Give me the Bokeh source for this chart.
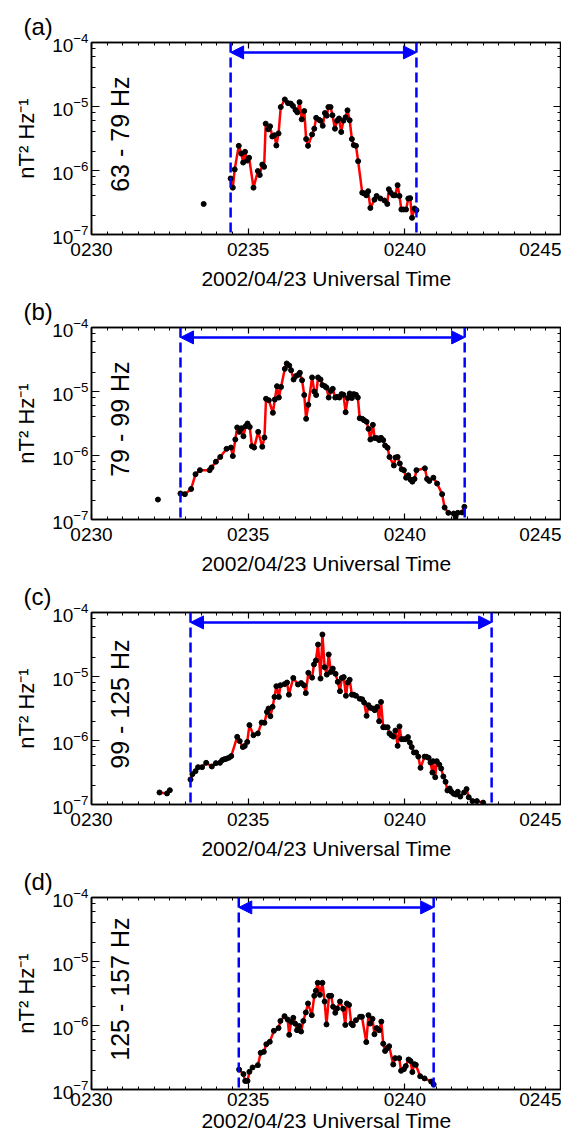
import math
from bokeh.plotting import figure
from bokeh.layouts import column
from bokeh.models import (Range1d, FixedTicker, LogTicker, LinearAxis, LogAxis, Span, Arrow,
                          NormalHead, Label, CustomJSTickFormatter)
from bokeh.embed import file_html
from bokeh.resources import INLINE

# ---------------- data (time in minutes after 02:30 UT, PSD in nT^2/Hz) ----------------
TICK_MINUTES = [0, 5, 10, 15]
TICK_LABELS = ["0230", "0235", "0240", "0245"]
PANEL_LETTERS = ["(a)", "(b)", "(c)", "(d)"]
BAND_LABELS = ["63 - 79 Hz", "79 - 99 Hz", "99 - 125 Hz", "125 - 157 Hz"]
INTERVAL_START = [4.44, 2.84, 3.16, 4.70]
INTERVAL_END = [10.37, 11.91, 12.77, 10.92]
X_TITLE = "2002/04/23 Universal Time"
Y_TITLE = "nT\u00b2 Hz\u207b\u00b9"

a_pre_t = [3.58]
a_pre_psd = [3.0e-7]
a_t = [4.44, 4.51, 4.57, 4.70, 4.78, 4.84, 4.90, 4.97, 5.03, 5.17,
       5.31, 5.37, 5.45, 5.51, 5.56, 5.64, 5.70, 5.77, 5.84, 5.90,
       5.97, 6.04, 6.17, 6.27, 6.36, 6.43, 6.51, 6.57, 6.64, 6.71,
       6.79, 6.85, 6.91, 7.04, 7.11, 7.17, 7.26, 7.31, 7.38, 7.45,
       7.51, 7.56, 7.63, 7.69, 7.77, 7.84, 7.90, 7.97, 8.04, 8.11,
       8.17, 8.24, 8.31, 8.37, 8.44, 8.51, 8.64, 8.70, 8.77, 8.83,
       8.90, 9.03, 9.10, 9.22, 9.35, 9.44, 9.49, 9.55, 9.63, 9.69,
       9.77, 9.83, 9.89, 9.96, 10.04, 10.11, 10.17, 10.23, 10.31, 10.37]
a_psd = [7.5e-7, 5.4e-7, 1.04e-6, 2.43e-6, 1.84e-6, 1.33e-6, 1.96e-6, 1.43e-6, 1.58e-6, 5.4e-7,
         9.8e-7, 8.5e-7, 1.24e-6, 1.14e-6, 5.4e-6, 4.4e-6, 4.9e-6, 3.4e-6, 3.56e-6, 2.46e-6,
         3.8e-6, 9.8e-6, 1.29e-5, 1.13e-5, 1.11e-5, 1.02e-5, 8.8e-6, 8.1e-6, 1.17e-5, 6.3e-6,
         8.5e-6, 3.1e-6, 2.43e-6, 3.65e-6, 4.5e-6, 6.65e-6, 6.2e-6, 6.0e-6, 5.0e-6, 7.9e-6,
         7.2e-6, 9.8e-6, 9.8e-6, 7.3e-6, 4.5e-6, 6.0e-6, 6.5e-6, 4.0e-6, 6.0e-6, 6.8e-6,
         8.7e-6, 6.1e-6, 3.1e-6, 2.5e-6, 2.43e-6, 1.4e-6, 4.5e-7, 4.4e-7, 4.1e-7, 4.75e-7,
         2.6e-7, 3.5e-7, 4.0e-7, 3.65e-7, 3.4e-7, 3.0e-7, 5.1e-7, 4.5e-7, 4.1e-7, 4.1e-7,
         5.9e-7, 4.0e-7, 2.46e-7, 2.46e-7, 2.46e-7, 3.65e-7, 3.7e-7, 1.82e-7, 2.55e-7, 2.4e-7]

b_pre_t = [2.12]
b_pre_psd = [2.05e-7]
b_t = [2.84, 2.98, 3.18, 3.32, 3.46, 3.77, 3.83, 3.97, 4.11, 4.31,
       4.45, 4.51, 4.59, 4.65, 4.72, 4.79, 4.85, 4.92, 4.98, 5.05,
       5.12, 5.19, 5.32, 5.45, 5.52, 5.57, 5.66, 5.79, 5.85, 5.92,
       5.98, 6.05, 6.17, 6.23, 6.31, 6.37, 6.45, 6.52, 6.60, 6.65,
       6.72, 6.79, 6.85, 6.92, 7.04, 7.11, 7.17, 7.23, 7.31, 7.37,
       7.45, 7.50, 7.57, 7.64, 7.70, 7.78, 7.84, 7.91, 7.98, 8.04,
       8.11, 8.18, 8.24, 8.31, 8.37, 8.44, 8.50, 8.56, 8.64, 8.70,
       8.78, 8.84, 8.90, 8.98, 9.04, 9.11, 9.18, 9.24, 9.31, 9.37,
       9.45, 9.51, 9.65, 9.70, 9.77, 9.84, 9.90, 9.97, 10.04, 10.11,
       10.18, 10.24, 10.31, 10.37, 10.64, 10.71, 10.78, 10.91, 11.03, 11.19,
       11.27, 11.39, 11.56, 11.62, 11.69, 11.83, 11.90]
b_psd = [2.55e-7, 2.49e-7, 3.0e-7, 5.1e-7, 5.9e-7, 5.9e-7, 6.5e-7, 8.0e-7, 9.5e-7, 1.27e-6,
         1.33e-6, 9.8e-7, 1.78e-6, 2.74e-6, 2.34e-6, 2.67e-6, 2.0e-6, 2.87e-6, 3.16e-6, 2.8e-6,
         1.4e-6, 1.33e-6, 2.34e-6, 1.37e-6, 1.91e-6, 7.7e-6, 7.3e-6, 4.65e-6, 7.5e-6, 1.21e-5,
         8.05e-6, 1.18e-5, 2.26e-5, 2.74e-5, 2.55e-5, 2.15e-5, 1.54e-5, 1.74e-5, 1.82e-5, 1.96e-5,
         1.5e-5, 8.8e-6, 3.74e-6, 6.2e-6, 1.66e-5, 1.0e-5, 8.8e-6, 1.66e-5, 1.54e-5, 1.26e-5,
         1.21e-5, 1.15e-5, 8.05e-6, 1.02e-5, 1.1e-5, 8.05e-6, 8.25e-6, 8.05e-6, 9.1e-6, 8.9e-6,
         4.75e-6, 7.9e-6, 9.3e-6, 7.9e-6, 9.1e-6, 8.9e-6, 8.05e-6, 3.83e-6, 3.74e-6, 3.56e-6,
         3.36e-6, 2.61e-6, 1.78e-6, 3.01e-6, 1.87e-6, 1.87e-6, 1.74e-6, 1.89e-6, 1.74e-6, 1.43e-6,
         1.32e-6, 9.5e-7, 7.0e-7, 9.3e-7, 9.5e-7, 7.5e-7, 6.1e-7, 5.9e-7, 4.5e-7, 4.9e-7,
         4.2e-7, 3.9e-7, 4.3e-7, 5.9e-7, 6.3e-7, 4.3e-7, 4.0e-7, 4.5e-7, 3.65e-7, 2.49e-7,
         1.54e-7, 1.27e-7, 1.24e-7, 1.1e-7, 1.27e-7, 1.29e-7, 1.58e-7]

c_pre_t = [2.17, 2.41, 2.50]
c_pre_psd = [1.54e-7, 1.49e-7, 1.67e-7]
c_t = [3.16, 3.22, 3.32, 3.40, 3.53, 3.66, 3.84, 3.97, 4.10, 4.17,
       4.24, 4.31, 4.39, 4.46, 4.65, 4.73, 4.83, 4.89, 4.97, 5.04,
       5.17, 5.31, 5.43, 5.52, 5.60, 5.65, 5.71, 5.78, 5.84, 5.90,
       5.98, 6.03, 6.16, 6.24, 6.30, 6.44, 6.59, 6.69, 6.78, 6.84,
       6.92, 7.04, 7.10, 7.16, 7.23, 7.31, 7.37, 7.44, 7.51, 7.57,
       7.64, 7.70, 7.79, 7.86, 7.93, 7.99, 8.05, 8.12, 8.18, 8.24,
       8.31, 8.37, 8.44, 8.56, 8.64, 8.70, 8.78, 8.84, 8.90, 8.98,
       9.04, 9.12, 9.18, 9.24, 9.31, 9.37, 9.45, 9.51, 9.57, 9.64,
       9.70, 9.77, 9.83, 9.89, 9.96, 10.02, 10.10, 10.16, 10.22, 10.29,
       10.36, 10.43, 10.50, 10.63, 10.69, 10.76, 10.82, 10.88, 10.90, 10.97,
       11.02, 11.10, 11.16, 11.23, 11.30, 11.36, 11.43, 11.49, 11.56, 11.63,
       11.69, 11.77, 11.89, 11.97, 12.04, 12.16, 12.30, 12.50]
c_psd = [2.46e-7, 2.98e-7, 3.32e-7, 3.83e-7, 3.83e-7, 4.48e-7, 3.93e-7, 4.43e-7, 4.48e-7, 4.93e-7,
         5.1e-7, 5.2e-7, 5.4e-7, 5.7e-7, 1.14e-6, 9.8e-7, 7.9e-7, 8.2e-7, 9.5e-7, 1.74e-6,
         1.21e-6, 1.29e-6, 1.91e-6, 1.89e-6, 2.8e-6, 3.16e-6, 2.4e-6, 3.36e-6, 4.8e-6, 7.06e-6,
         4.8e-6, 7.3e-6, 7.6e-6, 8.05e-6, 5.2e-6, 9.5e-6, 7.5e-6, 7.9e-6, 7.3e-6, 5.5e-6,
         1.14e-5, 9.6e-6, 1.54e-5, 1.78e-5, 3.16e-5, 9.3e-6, 4.53e-5, 1.4e-5, 1.07e-5, 2.21e-5,
         1.18e-5, 1.33e-5, 1.1e-5, 8.25e-6, 5.9e-6, 9.5e-6, 9.8e-6, 5.0e-6, 8.05e-6, 8.9e-6,
         5.2e-6, 5.2e-6, 5.0e-6, 4.5e-6, 4.4e-6, 3.93e-6, 2.43e-6, 3.56e-6, 3.24e-6, 3.16e-6,
         2.98e-6, 3.36e-6, 2.0e-6, 4.0e-6, 1.61e-6, 1.61e-6, 1.61e-6, 1.29e-6, 1.21e-6, 1.15e-6,
         1.43e-6, 8.25e-7, 1.66e-6, 1.05e-6, 1.05e-6, 1.05e-6, 1.13e-6, 9.3e-7, 7.9e-7, 6.5e-7,
         6.5e-7, 5.6e-7, 3.74e-7, 5.6e-7, 5.56e-7, 5.36e-7, 4.53e-7, 3.16e-7, 4.75e-7, 2.67e-7,
         4.75e-7, 4.2e-7, 3.65e-7, 2.74e-7, 2.26e-7, 1.66e-7, 1.78e-7, 1.58e-7, 1.47e-7, 1.43e-7,
         1.58e-7, 1.33e-7, 1.54e-7, 1.74e-7, 1.3e-7, 1.13e-7, 1.13e-7, 1.07e-7]

d_pre_t = []
d_pre_psd = []
d_t = [4.71, 4.85, 4.905, 4.98, 5.04, 5.14, 5.31, 5.40, 5.50, 5.58,
       5.69, 5.82, 5.97, 6.03, 6.16, 6.26, 6.31, 6.37, 6.44, 6.50,
       6.56, 6.63, 6.69, 6.76, 6.84, 6.91, 7.03, 7.11, 7.16, 7.22,
       7.29, 7.37, 7.44, 7.50, 7.58, 7.65, 7.71, 7.78, 7.84, 7.93,
       8.03, 8.10, 8.15, 8.22, 8.29, 8.34, 8.44, 8.57, 8.63, 8.77,
       8.84, 8.89, 8.97, 9.03, 9.10, 9.18, 9.25, 9.31, 9.37, 9.44,
       9.50, 9.63, 9.69, 9.82, 9.88, 9.97, 10.03, 10.12, 10.18, 10.24,
       10.30, 10.35, 10.49, 10.63, 10.84, 10.92]
d_psd = [2.05e-7, 1.74e-7, 1.36e-7, 1.36e-7, 1.89e-7, 2.21e-7, 2.4e-7, 3.74e-7, 3.88e-7, 5.1e-7,
         5.56e-7, 8.25e-7, 9.1e-7, 1.18e-6, 1.4e-6, 1.24e-6, 7.15e-7, 1.14e-6, 1.32e-6, 1.07e-6,
         8.45e-7, 9.8e-7, 8.05e-7, 1.18e-6, 1.6e-6, 2.21e-6, 1.45e-6, 2.91e-6, 3.48e-6, 4.65e-6,
         3.01e-6, 4.65e-6, 2.37e-6, 1.04e-6, 2.91e-6, 2.91e-6, 1.96e-6, 1.58e-6, 1.84e-6, 2.37e-6,
         1.82e-6, 1.02e-6, 2.21e-6, 2.1e-6, 1.07e-6, 1.01e-6, 1.21e-6, 1.37e-6, 1.37e-6, 5.5e-7,
         1.45e-6, 1.07e-6, 1.27e-6, 7.3e-7, 9.1e-7, 8.45e-7, 1.15e-6, 5.2e-7, 4.0e-7, 4.43e-7,
         4.75e-7, 2.46e-7, 3.09e-7, 3.09e-7, 1.96e-7, 2.08e-7, 2.32e-7, 2.94e-7, 2.8e-7, 1.87e-7,
         2.49e-7, 2.43e-7, 1.61e-7, 1.49e-7, 1.33e-7, 1.2e-7]

# ---------------- styling constants ----------------
FONT = "Liberation Sans"
BLUE = "#0000ff"
RED = "#ff0000"
ARROW_Y = 7.0e-5
LABEL_X = 0.9
LABEL_Y = 3.7e-6

series = [
    (a_pre_t, a_pre_psd, a_t, a_psd),
    (b_pre_t, b_pre_psd, b_t, b_psd),
    (c_pre_t, c_pre_psd, c_t, c_psd),
    (d_pre_t, d_pre_psd, d_t, d_psd),
]

minor_x = [i * 0.5 for i in range(31)]


def blank_formatter():
    return CustomJSTickFormatter(code="return ''")


def style_axis(ax, major_in, minor_in):
    ax.axis_line_color = "black"
    ax.axis_line_width = 1.5
    ax.major_tick_in = major_in
    ax.major_tick_out = 0
    ax.minor_tick_in = minor_in
    ax.minor_tick_out = 0
    ax.major_tick_line_color = "black"
    ax.minor_tick_line_color = "black"
    ax.major_tick_line_width = 1.2
    ax.minor_tick_line_width = 1
    ax.major_label_text_font = FONT
    ax.major_label_text_font_size = "19px"
    ax.major_label_text_color = "black"
    ax.axis_label_text_font = FONT
    ax.axis_label_text_font_size = "21px"
    ax.axis_label_text_font_style = "normal"
    ax.axis_label_text_color = "black"


plots = []
for i in range(4):
    pre_t, pre_v, t, v = series[i]
    last = (i == 3)
    p = figure(frame_width=470, frame_height=192, y_axis_type="log", output_backend="svg",
               toolbar_location=None, x_range=Range1d(0, 15), y_range=Range1d(1e-7, 1e-4),
               min_border=0)
    p.margin = (7 if i == 0 else 0, 0, 0, 11)
    p.xgrid.visible = False
    p.ygrid.visible = False
    p.outline_line_color = "black"
    p.outline_line_width = 1.5
    p.background_fill_color = "white"
    p.border_fill_color = "white"

    p.title.text = PANEL_LETTERS[i]
    p.title.text_font = FONT
    p.title.text_font_size = "24px"
    p.title.text_font_style = "normal"
    p.title.text_color = "black"
    p.title.align = "left"
    p.title.offset = -68
    p.title.standoff = 6

    xa = p.xaxis[0]
    xa.ticker = FixedTicker(ticks=TICK_MINUTES, minor_ticks=minor_x)
    xa.major_label_overrides = dict(zip(TICK_MINUTES, TICK_LABELS))
    xa.axis_label = X_TITLE
    xa.major_label_standoff = 3 if last else 8
    xa.axis_label_standoff = 0 if last else 8
    style_axis(xa, 6, 3)

    ya = p.yaxis[0]
    ya.ticker = LogTicker()
    ya.axis_label = Y_TITLE
    ya.major_label_standoff = 3
    ya.axis_label_standoff = 10
    style_axis(ya, 8, 4)
    ya.axis_label_text_font_size = "22px"

    top_ax = LinearAxis(ticker=FixedTicker(ticks=TICK_MINUTES, minor_ticks=minor_x),
                        formatter=blank_formatter())
    style_axis(top_ax, 6, 3)
    top_ax.major_label_standoff = 0
    p.add_layout(top_ax, "above")

    right_ax = LogAxis(ticker=LogTicker(), formatter=blank_formatter())
    style_axis(right_ax, 8, 4)
    right_ax.major_label_standoff = 0
    p.add_layout(right_ax, "right")

    for loc in (INTERVAL_START[i], INTERVAL_END[i]):
        p.add_layout(Span(location=loc, dimension="height", line_color=BLUE,
                          line_width=2.5, line_dash="10 5"))
    p.add_layout(Arrow(start=NormalHead(size=13, fill_color=BLUE, line_color=BLUE),
                       end=NormalHead(size=13, fill_color=BLUE, line_color=BLUE),
                       x_start=INTERVAL_START[i], y_start=ARROW_Y,
                       x_end=INTERVAL_END[i], y_end=ARROW_Y,
                       line_color=BLUE, line_width=2.5))

    if len(pre_t) > 1:
        p.line(pre_t, pre_v, line_color=RED, line_width=2.5)
    p.line(t, v, line_color=RED, line_width=2.5)
    if len(pre_t) > 0:
        p.scatter(pre_t, pre_v, size=5, fill_color="black", line_color="black")
    p.scatter(t, v, size=5, fill_color="black", line_color="black")

    p.add_layout(Label(x=LABEL_X, y=LABEL_Y, text=BAND_LABELS[i], angle=math.pi / 2,
                       text_align="center", text_baseline="middle", text_font=FONT,
                       text_font_size="25px", text_color="black"))
    plots.append(p)

layout = column(*plots, spacing=0)
open("out.html", "w").write(file_html(layout, INLINE))
